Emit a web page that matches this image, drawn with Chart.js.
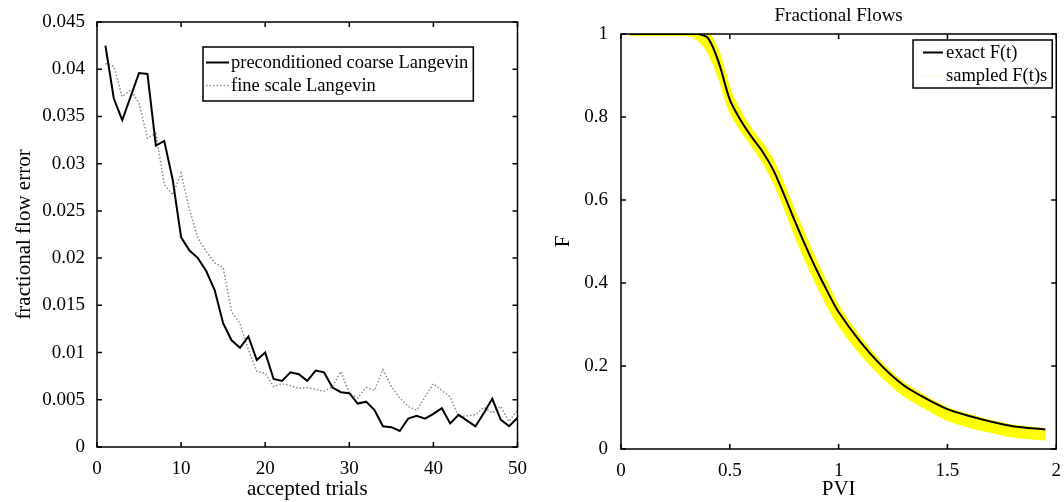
<!DOCTYPE html>
<html>
<head>
<meta charset="utf-8">
<script src="https://cdn.jsdelivr.net/npm/chart.js@4.4.1/dist/chart.umd.min.js"></script>
<style>
html, body { margin: 0; padding: 0; background: #fff; }
#wrap { position: relative; width: 1064px; height: 502px; }
#left { position: absolute; left: 0; top: 0; }
#right { position: absolute; left: 530px; top: 0; }
</style>
</head>
<body>
<div id="wrap">
  <canvas id="left" width="530" height="502"></canvas>
  <canvas id="right" width="534" height="502"></canvas>
</div>
<script>
// left panel: error vs accepted trials
var trials = [1,2,3,4,5,6,7,8,9,10,11,12,13,14,15,16,17,18,19,20,21,22,23,24,25,
  26,27,28,29,30,31,32,33,34,35,36,37,38,39,40,41,42,43,44,45,46,47,48,49,50]
var coarse = [0.0425,0.0369,0.0346,0.0371,0.0396,0.0395,0.0319,0.0324,0.0283,0.0222,
  0.0208,0.0200,0.0186,0.0166,0.0131,0.0113,0.0105,0.0117,0.0092,0.0100,
  0.0072,0.0070,0.0079,0.0077,0.0070,0.0081,0.0079,0.0063,0.0058,0.0057,
  0.0046,0.0048,0.0039,0.0022,0.0021,0.0017,0.0030,0.0033,0.0030,0.0035,
  0.0041,0.0025,0.0034,0.0028,0.0022,0.0036,0.0051,0.0029,0.0022,0.0031]
var fine = [0.0406,0.0403,0.0371,0.0378,0.0364,0.0327,0.0332,0.0278,0.0267,0.0290,
  0.0251,0.0221,0.0207,0.0195,0.0190,0.0143,0.0131,0.0103,0.0080,0.0078,
  0.0064,0.0067,0.0065,0.0062,0.0063,0.0061,0.0059,0.0064,0.0080,0.0057,
  0.0052,0.0063,0.0060,0.0082,0.0064,0.0052,0.0043,0.0039,0.0053,0.0067,
  0.0060,0.0053,0.0032,0.0033,0.0034,0.0042,0.0036,0.0043,0.0027,0.0039]

// right panel: fractional flow curves
var pvi = [0.04,0.1,0.2,0.3,0.35,0.4,0.45,0.5,0.55,0.6,0.65,0.7,0.75,0.8,0.85,0.9,0.95,1.0,
  1.1,1.2,1.3,1.4,1.5,1.6,1.7,1.8,1.95]
var exactF = [1,1,1,1,1,0.99,0.93,0.842,0.792,0.752,0.717,0.672,0.612,0.548,0.487,0.43,0.378,0.33,
  0.258,0.199,0.153,0.122,0.096,0.0795,0.066,0.055,0.047]
var sampled1 = [1,1,1,1,1,1,0.95,0.862,0.808,0.766,0.733,0.69,0.63,0.566,0.505,0.446,0.391,0.34,
  0.265,0.204,0.156,0.124,0.097,0.08,0.066,0.055,0.046]
var sampled2 = [1,1,1,1,1,0.99,0.938,0.851,0.799,0.758,0.724,0.68,0.62,0.555,0.493,0.435,0.38,0.331,
  0.257,0.197,0.15,0.118,0.091,0.074,0.06,0.049,0.041]
var sampled3 = [1,1,1,1,1,0.98,0.925,0.84,0.79,0.751,0.715,0.669,0.609,0.543,0.481,0.423,0.37,0.321,
  0.249,0.191,0.144,0.112,0.085,0.068,0.055,0.044,0.035]
var sampled4 = [1,1,1,1,0.995,0.97,0.913,0.829,0.781,0.743,0.706,0.659,0.599,0.532,0.469,0.412,0.359,0.312,
  0.241,0.184,0.137,0.106,0.078,0.062,0.049,0.038,0.03]
var sampled5 = [1,1,1,1,0.99,0.96,0.9,0.818,0.772,0.735,0.697,0.648,0.588,0.52,0.457,0.4,0.348,0.302,
  0.233,0.177,0.131,0.1,0.072,0.0555,0.043,0.032,0.024]

var SERIF = '"Liberation Serif", "Times New Roman", serif'
Chart.defaults.font.family = SERIF
Chart.defaults.color = '#000'

function pairs(xs, ys) {
  return ys.map(function (v, i) { return { x: xs[i], y: v } })
}
function fmt(v) { return +v.toFixed(3) + '' }

// matlab style box with inward ticks
var matlabBox = {
  id: 'matlabBox',
  afterDatasetsDraw: function (chart) {
    var a = chart.chartArea, ctx = chart.ctx
    var xs = chart.scales.x, ys = chart.scales.y
    ctx.save()
    ctx.strokeStyle = '#000'
    ctx.lineWidth = 1.5
    ctx.strokeRect(a.left, a.top, a.right - a.left, a.bottom - a.top)
    ctx.beginPath()
    xs.ticks.forEach(function (t) {
      var px = xs.getPixelForValue(t.value)
      ctx.moveTo(px, a.bottom); ctx.lineTo(px, a.bottom - 5)
      ctx.moveTo(px, a.top); ctx.lineTo(px, a.top + 5)
    })
    ys.ticks.forEach(function (t) {
      var py = ys.getPixelForValue(t.value)
      ctx.moveTo(a.left, py); ctx.lineTo(a.left + 5, py)
      ctx.moveTo(a.right, py); ctx.lineTo(a.right - 5, py)
    })
    ctx.stroke()
    ctx.restore()
  }
}

// boxed legend inside the axes
var boxLegend = {
  id: 'boxLegend',
  afterDraw: function (chart, args, o) {
    var ctx = chart.ctx, a = chart.chartArea
    var items = chart.data.datasets.filter(function (d) { return d.label })
    ctx.save()
    ctx.font = o.font
    var tw = Math.max.apply(null, items.map(function (d) { return ctx.measureText(d.label).width }))
    var w = o.pad + o.sample + o.gap + tw + 5
    var h = items.length * o.rowH + 2 * o.padY
    var x0 = o.left != null ? a.left + o.left : a.right - o.right - w
    var y0 = a.top + o.top
    ctx.fillStyle = '#fff'
    ctx.fillRect(x0, y0, w, h)
    ctx.strokeStyle = '#000'
    ctx.lineWidth = 1.5
    ctx.strokeRect(x0, y0, w, h)
    items.forEach(function (d, i) {
      var cy = y0 + o.padY + o.rowH * (i + 0.5)
      ctx.beginPath()
      ctx.strokeStyle = d.legendColor || d.borderColor
      ctx.lineWidth = d.legendWidth || d.borderWidth
      ctx.setLineDash(d.legendDash || d.borderDash || [])
      ctx.moveTo(x0 + o.pad, cy)
      ctx.lineTo(x0 + o.pad + o.sample, cy)
      ctx.stroke()
      ctx.setLineDash([])
      ctx.fillStyle = '#000'
      ctx.textBaseline = 'middle'
      ctx.fillText(d.label, x0 + o.pad + o.sample + o.gap, cy + 1)
    })
    ctx.restore()
  }
}

var tickFont = { size: 19 }
var titleFont = { size: 21 }

new Chart(document.getElementById('left'), {
  type: 'line',
  data: {
    datasets: [{
      label: 'preconditioned coarse Langevin',
      data: pairs(trials, coarse),
      borderColor: '#000',
      borderWidth: 2,
      pointRadius: 0,
      tension: 0
    }, {
      label: 'fine scale Langevin',
      data: pairs(trials, fine),
      borderColor: '#8a8a8a',
      borderWidth: 1.5,
      borderDash: [1.5, 2],
      pointRadius: 0,
      tension: 0
    }]
  },
  options: {
    responsive: false,
    animation: false,
    layout: { padding: { left: 0, top: 22, right: 11, bottom: 0 } },
    plugins: {
      legend: { display: false },
      tooltip: { enabled: false },
      boxLegend: { left: 106, top: 25, pad: 3, sample: 23, gap: 2, rowH: 23, padY: 4, font: '18.5px ' + SERIF }
    },
    scales: {
      x: {
        type: 'linear', min: 0, max: 50,
        grid: { display: false }, border: { display: false },
        ticks: { stepSize: 10, font: tickFont, padding: 3, maxRotation: 0, callback: fmt },
        title: { display: true, text: 'accepted trials', font: titleFont, padding: { top: 0, bottom: 0 } },
        afterFit: function (s) { s.height = 55 }
      },
      y: {
        min: 0, max: 0.045,
        grid: { display: false }, border: { display: false },
        ticks: { stepSize: 0.005, font: tickFont, padding: 4, callback: fmt },
        title: { display: true, text: 'fractional flow error', font: titleFont, padding: { top: 12, bottom: 0 } },
        afterFit: function (s) { s.width = 97 }
      }
    }
  },
  plugins: [matlabBox, boxLegend]
})

var yellowSets = [sampled1, sampled2, sampled3, sampled4, sampled5].map(function (s, i) {
  return {
    label: i === 0 ? 'sampled F(t)s' : undefined,
    data: pairs(pvi, s),
    borderColor: '#ffff00',
    borderWidth: 3.5,
    legendColor: '#f4f080',
    legendWidth: 1,
    legendDash: [1, 2],
    pointRadius: 0,
    tension: 0.3
  }
})

new Chart(document.getElementById('right'), {
  type: 'line',
  data: {
    datasets: [{
      label: 'exact F(t)',
      data: pairs(pvi, exactF),
      borderColor: '#000',
      borderWidth: 2,
      pointRadius: 0,
      tension: 0.3
    }].concat(yellowSets).map(function (d, i) { d.order = i === 0 ? 0 : 1; return d })
  },
  options: {
    responsive: false,
    animation: false,
    layout: { padding: { left: 0, top: 0, right: 6, bottom: 0 } },
    plugins: {
      legend: { display: false },
      tooltip: { enabled: false },
      title: {
        display: true, text: 'Fractional Flows', fullSize: false,
        font: { size: 19, weight: 'normal' }, padding: { top: 5, bottom: 6.2 }
      },
      boxLegend: { right: 4, top: 6, pad: 10, sample: 20, gap: 3, rowH: 23, padY: 1, font: '18.5px ' + SERIF }
    },
    scales: {
      x: {
        type: 'linear', min: 0, max: 2,
        grid: { display: false }, border: { display: false },
        ticks: { stepSize: 0.5, font: tickFont, padding: 3, maxRotation: 0, callback: fmt },
        title: { display: true, text: 'PVI', font: titleFont, padding: { top: 0, bottom: 0 } },
        afterFit: function (s) { s.height = 53 }
      },
      y: {
        min: 0, max: 1,
        grid: { display: false }, border: { display: false },
        ticks: { stepSize: 0.2, font: tickFont, padding: 5, callback: fmt },
        title: { display: true, text: 'F', font: titleFont, padding: { top: 21, bottom: 0 } },
        afterFit: function (s) { s.width = 91 }
      }
    }
  },
  plugins: [matlabBox, boxLegend]
})
</script>
</body>
</html>
